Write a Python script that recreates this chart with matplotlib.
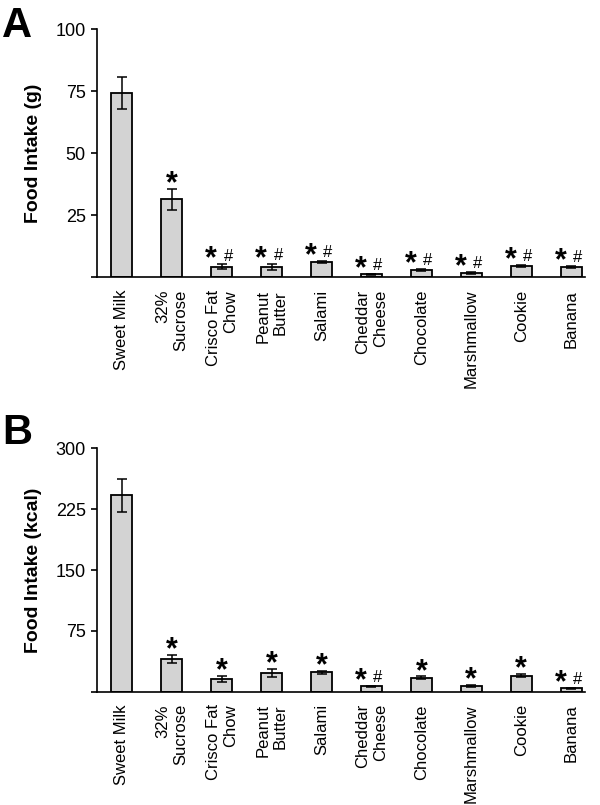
import numpy as np
import matplotlib.pyplot as plt

plt.rcParams['font.family'] = ['Liberation Sans', 'DejaVu Sans']

foods = ['Sweet Milk', '32%\nSucrose', 'Crisco Fat\nChow', 'Peanut\nButter', 'Salami',
         'Cheddar\nCheese', 'Chocolate', 'Marshmallow', 'Cookie', 'Banana']

# panel A - grams
grams = [74.5, 31.5, 4.4, 4.4, 6.2, 1.3, 3.2, 2.0, 4.7, 4.4]
grams_err = [6.4, 4.1, 0.9, 1.2, 0.5, 0.3, 0.4, 0.4, 0.4, 0.4]
grams_marks = ['', '*', '*#', '*#', '*#', '*#', '*#', '*#', '*#', '*#']

# panel B - kcal
kcal = [242, 40.5, 16.2, 23.4, 23.8, 6.6, 17.3, 7.0, 20.0, 4.5]
kcal_err = [20.5, 5.0, 3.8, 4.8, 1.8, 1.0, 1.5, 1.5, 1.6, 0.7]
kcal_marks = ['', '*', '*', '*', '*', '*#', '*', '*', '*', '*#']

fig = plt.figure(figsize=(6, 8.05), dpi=100)
axA = fig.add_axes([0.1617, 0.6553, 0.8133, 0.3081])
axB = fig.add_axes([0.1617, 0.1407, 0.8133, 0.3024])

x = np.arange(len(foods))


def panel(ax, vals, errs, marks, ymax, yticks, ylabel):
    ax.bar(x, vals, width=0.42, color='#d3d3d3', edgecolor='black', linewidth=1.3, zorder=2)
    ax.errorbar(x, vals, yerr=errs, fmt='none', ecolor='black', elinewidth=1.1,
                capsize=3.5, capthick=1.1, zorder=3)
    for xi, v, e, m in zip(x, vals, errs, marks):
        top = v + e
        if m == '*':
            ax.annotate('*', (xi, top), xytext=(0, -2.4), textcoords='offset points',
                        ha='center', va='baseline', fontsize=22, fontweight='bold')
        elif m == '*#':
            ax.annotate('*', (xi - 0.21, top), xytext=(0, -2.4), textcoords='offset points',
                        ha='center', va='baseline', fontsize=22, fontweight='bold')
            ax.annotate('#', (xi + 0.13, top), xytext=(0, 2.5), textcoords='offset points',
                        ha='center', va='baseline', fontsize=12)
    ax.set_xlim(-0.5, 9.28)
    ax.set_ylim(0, ymax)
    ax.set_yticks(yticks)
    ax.set_yticklabels([''] + [str(t) for t in yticks[1:]], fontsize=13)
    ax.set_xticks(x)
    ax.set_xticklabels(foods, rotation=90, ha='center', va='top', multialignment='right',
                       fontsize=12)
    ax.tick_params(axis='x', length=0, pad=9)
    ax.tick_params(axis='y', direction='out', length=4, width=1.2, pad=4)
    for s in ['top', 'right']:
        ax.spines[s].set_visible(False)
    for s in ['left', 'bottom']:
        ax.spines[s].set_linewidth(1.2)
    ax.set_ylabel(ylabel, fontsize=14, fontweight='bold')
    ax.yaxis.set_label_coords(-0.112, 0.5)


panel(axA, grams, grams_err, grams_marks, 100, [0, 25, 50, 75, 100], 'Food Intake (g)')
panel(axB, kcal, kcal_err, kcal_marks, 300, [0, 75, 150, 225, 300], 'Food Intake (kcal)')

fig.text(0.004, 1 - 6 / 805, 'A', fontsize=30, fontweight='bold', va='top', ha='left')
fig.text(0.004, 1 - 413 / 805, 'B', fontsize=30, fontweight='bold', va='top', ha='left')

fig.savefig('out.png', dpi=100)
